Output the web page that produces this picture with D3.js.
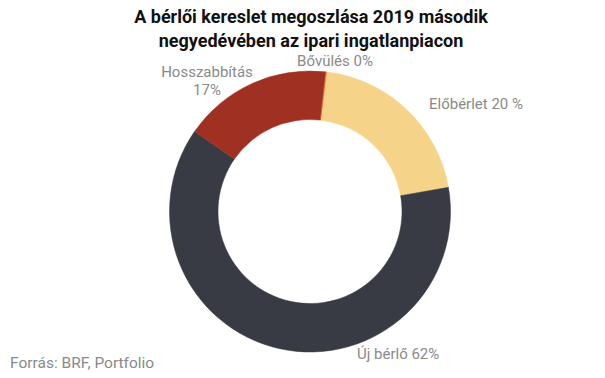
<!DOCTYPE html>
<html>
<head>
<meta charset="utf-8">
<script src="https://cdn.jsdelivr.net/npm/d3@7"></script>
<style>
  body { margin: 0; background: #fff; }
  text { font-family: Roboto, sans-serif; }
</style>
</head>
<body>
<div id="chart"></div>
<script>
const width = 605;
const height = 378;

// data
const categories = ['Bővülés', 'Előbérlet', 'Új bérlő', 'Hosszabbítás'];
const values = [0.2, 20.3, 62.4, 17.1];
const labels = ['Bővülés 0%', 'Előbérlet 20 %', 'Új bérlő 62%', 'Hosszabbítás\n17%'];
const colors = ['#ee7d32', '#f5d388', '#383b44', '#a03122'];

const centre = { x: 310, y: 211.5 };
const outerR = 140.5;
const innerR = 92;
const start = 0.11;

const svg = d3.select('#chart')
    .append('svg')
    .attr('width', width)
    .attr('height', height);

const data = categories.map((c, i) => ({ name: c, value: values[i], label: labels[i], color: colors[i] }));

const pie = d3.pie()
    .sort(null)
    .value(d => d.value)
    .startAngle(start)
    .endAngle(start + 2 * Math.PI);

const arc = d3.arc()
    .innerRadius(innerR)
    .outerRadius(outerR);

const g = svg.append('g')
    .attr('transform', `translate(${centre.x},${centre.y})`);

g.selectAll('path')
    .data(pie(data))
    .enter()
    .append('path')
    .attr('d', arc)
    .attr('fill', d => d.data.color)
    .attr('stroke', d => d.data.color)
    .attr('stroke-width', 0.5);

// label positions (offsets from the centre)
const labelPos = [
    { x: 25, y: -146, anchor: 'middle' },
    { x: 119, y: -103, anchor: 'start' },
    { x: 47, y: 147.5, anchor: 'start' },
    { x: -103, y: -135, anchor: 'middle' }
];

pie(data).forEach((d, i) => {
    const p = labelPos[i];
    const t = g.append('text')
        .attr('x', p.x)
        .attr('y', p.y)
        .attr('text-anchor', p.anchor)
        .style('font-size', '15px')
        .attr('fill', '#8a8a8a');
    d.data.label.split('\n').forEach((line, j) => {
        t.append('tspan')
            .attr('x', p.x)
            .attr('dy', j === 0 ? 0 : 18.5)
            .text(line);
    });
});

// title
const title = svg.append('text')
    .attr('text-anchor', 'middle')
    .style('font-size', '18px')
    .style('font-weight', 'bold')
    .attr('fill', '#111');
['A bérlői kereslet megoszlása 2019 második', 'negyedévében az ipari ingatlanpiacon'].forEach((line, i) => {
    title.append('tspan')
        .attr('x', 311)
        .attr('y', 22.5 + i * 24)
        .text(line);
});

svg.append('text')
    .attr('x', 10)
    .attr('y', 368)
    .style('font-size', '15.5px')
    .attr('fill', '#8a8a8a')
    .text('Forrás: BRF, Portfolio');
</script>
</body>
</html>
